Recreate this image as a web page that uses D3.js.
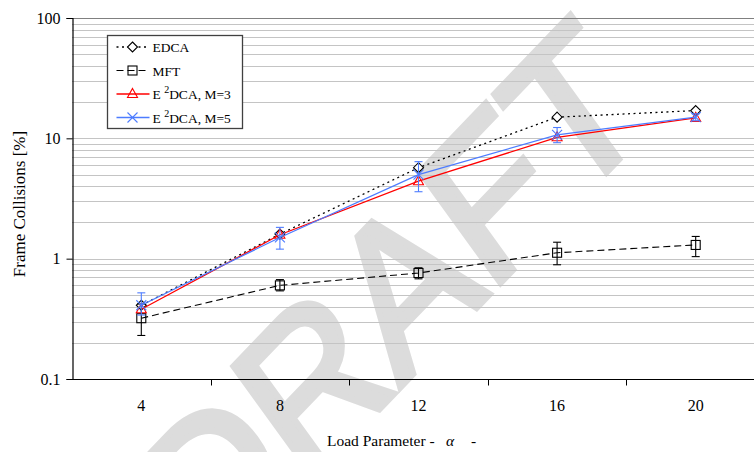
<!DOCTYPE html>
<html>
<head>
<meta charset="utf-8">
<script src="https://cdn.jsdelivr.net/npm/d3@7"></script>
<style>
  html, body { margin: 0; padding: 0; background: #fff; }
  svg { display: block; }
  text { font-family: "Liberation Serif", "Times New Roman", serif; fill: #000; }
</style>
</head>
<body>
<svg id="chart" width="754" height="452"></svg>
<script>
// Load parameter values on the x axis
const categories = [4, 8, 12, 16, 20];

// Frame collisions [%] per scheme
const edca = [0.41, 1.6, 5.7, 15.0, 17.0];
const mft = [0.32, 0.60, 0.76, 1.12, 1.30];
const mftLow = [0.23, 0.54, 0.68, 0.89, 1.04];
const mftHigh = [0.42, 0.67, 0.84, 1.37, 1.53];
const e2dcaM3 = [0.38, 1.58, 4.4, 10.2, 14.8];
const e2dcaM5 = [0.41, 1.50, 5.0, 10.7, 15.0];
const e2dcaM5Low = [0.34, 1.20, 3.6, 9.2, 14.0];
const e2dcaM5High = [0.52, 1.82, 6.4, 12.3, 16.0];

const yTicks = [0.1, 1, 10, 100];
const yTickLabels = ["0.1", "1", "10", "100"];

const svg = d3.select("#chart");
const W = 754, H = 452;
const plotLeft = 72, plotTop = 18, plotBottom = 379, bandW = 138.6;

const x = d3.scaleBand().domain(categories).range([plotLeft, plotLeft + bandW * categories.length]).padding(0);
const cx = d => x(d) + x.bandwidth() / 2;
const y = d3.scaleLog().domain([0.1, 100]).range([plotBottom, plotTop]);

// Background watermark (diagonal, slightly stretched vertically)
svg.append("text")
  .attr("transform", "translate(206,590) scale(1,1.2) rotate(-41)")
  .style("font-family", "'Liberation Sans', Arial, sans-serif")
  .style("font-size", "178px")
  .style("fill", "#dcdcdc")
  .style("stroke", "#dcdcdc")
  .style("stroke-width", "6px")
  .style("stroke-linejoin", "miter")
  .text("DRAFT");

// Minor and major horizontal gridlines
const gridVals = [];
[0.1, 1, 10].forEach(d => { for (let k = 1; k <= 9; k++) gridVals.push(d * k); });
const gridG = svg.append("g");
gridG.selectAll("line").data(gridVals.filter(v => v > 0.1 && v < 100)).join("line")
  .attr("x1", plotLeft).attr("x2", W)
  .attr("y1", d => Math.round(y(d)) + 0.5).attr("y2", d => Math.round(y(d)) + 0.5)
  .attr("stroke", "#c4c4c4").attr("stroke-width", 1);
// frame line at 100
gridG.append("line")
  .attr("x1", plotLeft).attr("x2", W)
  .attr("y1", Math.round(y(100)) + 0.5).attr("y2", Math.round(y(100)) + 0.5)
  .attr("stroke", "#808080").attr("stroke-width", 1);

// Y axis
const yAxis = d3.axisLeft(y).tickValues(yTicks).tickFormat((d, i) => yTickLabels[i]).tickSize(6).tickPadding(6);
const yg = svg.append("g").attr("transform", `translate(${plotLeft + 0.5},0)`).call(yAxis);
yg.select(".domain").attr("stroke", "#000").attr("stroke-width", 1.2);
yg.selectAll(".tick line").attr("stroke", "#000");
yg.selectAll(".tick text").style("font-size", "16px").style("font-family", "'Liberation Serif', serif").attr("fill", "#000");

// X axis: ticks at band edges, labels at band centres
const xg = svg.append("g").attr("transform", `translate(0,${plotBottom + 0.5})`);
xg.append("line").attr("x1", plotLeft).attr("x2", W).attr("stroke", "#000").attr("stroke-width", 1.2);
xg.selectAll("line.tk").data(categories.slice(1)).join("line").attr("class", "tk")
  .attr("x1", d => Math.round(x(d)) + 0.5).attr("x2", d => Math.round(x(d)) + 0.5)
  .attr("y1", 0).attr("y2", 6).attr("stroke", "#000");
xg.selectAll("text").data(categories).join("text")
  .attr("x", d => cx(d)).attr("y", 31)
  .attr("text-anchor", "middle").style("font-size", "16px")
  .text(d => d);

// Axis titles
svg.append("text")
  .attr("transform", "translate(25,204) rotate(-90)")
  .attr("text-anchor", "middle").style("font-size", "17px")
  .text("Frame Collisions [%]");
const xt = svg.append("text").attr("y", 446).style("font-size", "15.5px");
xt.append("tspan").attr("x", 327).text("Load Parameter -");
xt.append("tspan").attr("x", 446).style("font-style", "italic").text("α");
xt.append("tspan").attr("x", 471).text("-");

// Series definitions
const series = [
  { name: "EDCA", values: edca, color: "#000", dash: "2,3.5", width: 1.3, marker: "diamond" },
  { name: "MFT", values: mft, color: "#000", dash: "7,4", width: 1.1, marker: "square", low: mftLow, high: mftHigh },
  { name: "M3", values: e2dcaM3, color: "#ff0000", dash: null, width: 1.3, marker: "triangle" },
  { name: "M5", values: e2dcaM5, color: "#4d7cff", dash: null, width: 1.3, marker: "cross", low: e2dcaM5Low, high: e2dcaM5High }
];

function drawMarker(g, type, px, py, color) {
  if (type === "diamond") {
    g.append("path").attr("d", `M${px},${py - 5}L${px + 5},${py}L${px},${py + 5}L${px - 5},${py}Z`)
      .attr("fill", "#fff").attr("stroke", color).attr("stroke-width", 1.1);
  } else if (type === "square") {
    g.append("rect").attr("x", px - 4.5).attr("y", py - 4.5).attr("width", 9).attr("height", 9)
      .attr("fill", "none").attr("stroke", color).attr("stroke-width", 1.1);
  } else if (type === "triangle") {
    g.append("path").attr("d", `M${px},${py - 5.5}L${px + 5},${py + 3.5}L${px - 5},${py + 3.5}Z`)
      .attr("fill", "none").attr("stroke", color).attr("stroke-width", 1.1);
  } else if (type === "cross") {
    g.append("path").attr("d", `M${px - 5},${py - 5}L${px + 5},${py + 5}M${px - 5},${py + 5}L${px + 5},${py - 5}`)
      .attr("fill", "none").attr("stroke", color).attr("stroke-width", 1.1);
  }
}

const line = d3.line().x((d, i) => cx(categories[i])).y(d => y(d));
const plot = svg.append("g");

series.forEach(s => {
  const g = plot.append("g");
  g.append("path").attr("d", line(s.values))
    .attr("fill", "none").attr("stroke", s.color).attr("stroke-width", s.width)
    .attr("stroke-dasharray", s.dash);
  if (s.low) {
    categories.forEach((c, i) => {
      const px = cx(c);
      g.append("line").attr("x1", px).attr("x2", px).attr("y1", y(s.low[i])).attr("y2", y(s.high[i]))
        .attr("stroke", s.color).attr("stroke-width", 1.1);
      [s.low[i], s.high[i]].forEach(v => {
        g.append("line").attr("x1", px - 4).attr("x2", px + 4).attr("y1", y(v)).attr("y2", y(v))
          .attr("stroke", s.color).attr("stroke-width", 1.1);
      });
    });
  }
  s.values.forEach((v, i) => drawMarker(g, s.marker, cx(categories[i]), y(v), s.color));
});

// Legend
const lg = svg.append("g").attr("transform", "translate(107.5,35.5)");
lg.append("rect").attr("width", 135).attr("height", 93)
  .attr("fill", "#fff").attr("stroke", "#404040").attr("stroke-width", 1.3);
const legendLabels = [["EDCA"], ["MFT"], ["E", "2", "DCA, M=3"], ["E", "2", "DCA, M=5"]];
series.forEach((s, i) => {
  const ry = 11.5 + i * 23.5;
  lg.append("line").attr("x1", 9).attr("x2", 42).attr("y1", ry).attr("y2", ry)
    .attr("stroke", s.color).attr("stroke-width", s.width).attr("stroke-dasharray", s.dash);
  drawMarker(lg, s.marker, 25, ry, s.color);
  const t = lg.append("text").attr("x", 45).attr("y", ry + 5).style("font-size", "13.5px");
  const parts = legendLabels[i];
  if (parts.length === 1) {
    t.text(parts[0]);
  } else {
    t.append("tspan").text(parts[0] + " ");
    t.append("tspan").attr("dy", -6).style("font-size", "10px").text(parts[1]);
    t.append("tspan").attr("dy", 6).text(parts[2]);
  }
});
</script>
</body>
</html>
